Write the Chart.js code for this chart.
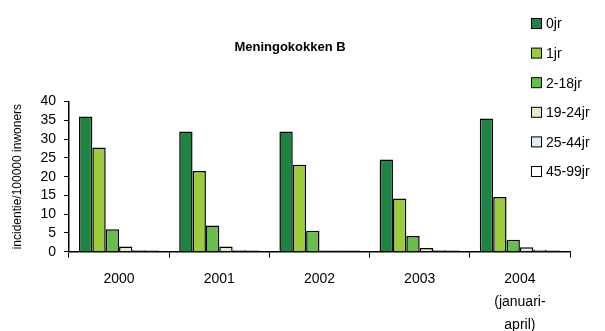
<!DOCTYPE html>
<html><head><meta charset="utf-8">
<script src="https://cdn.jsdelivr.net/npm/chart.js@4/dist/chart.umd.min.js"></script>
<style>html,body{margin:0;padding:0;background:#fff}#wrap{width:605px;height:331px}</style>
</head><body><div id="wrap"><canvas id="c" width="605" height="331"></canvas></div>
<script>
const categories = ['2000','2001','2002','2003',['2004','(januari-','april)']];
const seriesNames = ['0jr','1jr','2-18jr','19-24jr','25-44jr','45-99jr'];
const v0jr    = [36.0, 32.0, 32.0, 24.6, 35.5];
const v1jr    = [27.8, 21.5, 23.2, 14.2, 14.6];
const v2_18   = [6.0, 7.0, 5.6, 4.2, 3.2];
const v19_24  = [1.4, 1.4, 0.3, 1.0, 1.2];
const v25_44  = [0.4, 0.4, 0.3, 0.4, 0.5];
const v45_99  = [0.3, 0.3, 0.3, 0.3, 0.3];
const yTicks  = [0,5,10,15,20,25,30,35,40];
const colors  = ['#1f8443','#9ccb3c','#69bd4a','#dfedcc','#dcedf5','#ffffff'];
const values  = [v0jr, v1jr, v2_18, v19_24, v25_44, v45_99];

const legendPlugin = {
  id: 'sideLegend',
  afterDraw(chart) {
    const ctx = chart.ctx;
    ctx.save();
    ctx.font = '14px "Liberation Sans", Arial, sans-serif';
    ctx.textBaseline = 'middle';
    chart.data.datasets.forEach((ds, i) => {
      const y = 23.5 + i * 29.6;
      ctx.fillStyle = ds.backgroundColor;
      ctx.fillRect(531.5, y - 5, 10, 10);
      ctx.strokeStyle = '#000';
      ctx.lineWidth = 1;
      ctx.strokeRect(531.5, y - 5, 10, 10);
      ctx.fillStyle = '#000';
      ctx.fillText(ds.label, 546, y + 1);
    });
    ctx.restore();
  }
};

new Chart(document.getElementById('c'), {
  type: 'bar',
  data: {
    labels: categories,
    datasets: seriesNames.map((n, i) => ({
      label: n, data: values[i], backgroundColor: colors[i],
      borderColor: '#000', borderWidth: 1.5
    }))
  },
  options: {
    responsive: false, animation: false,
    layout: { padding: { left: 10, right: 35, top: 0, bottom: -16 } },
    datasets: { bar: { categoryPercentage: 0.8, barPercentage: 1.0 } },
    plugins: {
      legend: { display: false },
      tooltip: { enabled: false },
      title: {
        display: true, text: 'Meningokokken B', color: '#000',
        font: { family: '"Liberation Sans", Arial, sans-serif', size: 13, weight: 'bold' },
        padding: { top: 40, bottom: 46 }
      }
    },
    scales: {
      x: {
        grid: { drawOnChartArea: false, drawTicks: true, tickLength: 6, color: '#000', offset: true },
        border: { display: true, color: '#000', width: 1.5 },
        ticks: { color: '#000', font: { family: '"Liberation Sans", Arial, sans-serif', size: 14, lineHeight: 1.65 }, padding: 10, maxRotation: 0, autoSkip: false }
      },
      y: {
        min: 0, max: 40,
        afterBuildTicks: (s) => { s.ticks = yTicks.map(v => ({ value: v })); },
        grid: { drawOnChartArea: false, drawTicks: true, tickLength: 5, color: '#000' },
        border: { display: true, color: '#000', width: 1.5 },
        ticks: { color: '#000', autoSkip: false, font: { family: '"Liberation Sans", Arial, sans-serif', size: 14 }, padding: 8 },
        title: { display: true, text: 'incidentie/100000 inwoners', color: '#000',
          font: { family: '"Liberation Sans", Arial, sans-serif', size: 12 }, padding: { top: 0, bottom: 8 } }
      }
    }
  },
  plugins: [legendPlugin]
});
</script></body></html>
